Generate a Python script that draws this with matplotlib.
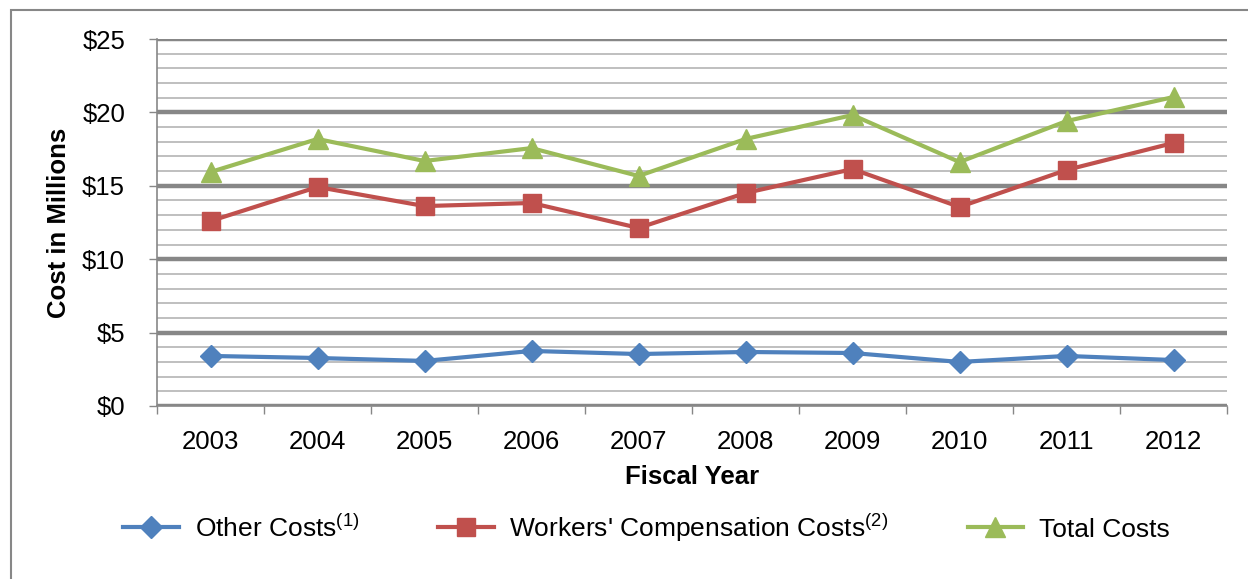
import matplotlib
matplotlib.use("Agg")
import matplotlib.pyplot as plt
from matplotlib.patches import Rectangle
from matplotlib.ticker import MultipleLocator, FixedLocator

years = ['2003', '2004', '2005', '2006', '2007', '2008', '2009', '2010', '2011', '2012']
other_costs = [3.41, 3.27, 3.07, 3.75, 3.54, 3.68, 3.61, 3.00, 3.41, 3.13]
workers_comp = [12.6, 14.92, 13.62, 13.83, 12.13, 14.51, 16.14, 13.56, 16.08, 17.92]
total_costs = [15.94, 18.19, 16.69, 17.57, 15.67, 18.19, 19.82, 16.62, 19.41, 21.05]
y_ticks = [0, 5, 10, 15, 20, 25]

plt.rcParams['font.family'] = ['Liberation Sans', 'DejaVu Sans']
plt.rcParams['mathtext.fontset'] = 'custom'
plt.rcParams['mathtext.rm'] = 'Liberation Sans'
plt.rcParams['mathtext.it'] = 'Liberation Sans'

fs = 18.5
dpi = 100
fig = plt.figure(figsize=(1248 / dpi, 579 / dpi), dpi=dpi)
ax = fig.add_axes([0.1258, 0.2988, 0.8574, 0.6338])

xs = list(range(len(years)))
ax.plot(xs, other_costs, color='#4F81BD', lw=3, marker='D', ms=11,
        label='Other Costs$^{(1)}$', zorder=5)
ax.plot(xs, workers_comp, color='#C0504D', lw=3, marker='s', ms=13.5,
        label="Workers' Compensation Costs$^{(2)}$", zorder=5)
ax.plot(xs, total_costs, color='#9BBB59', lw=3, marker='^', ms=14,
        label='Total Costs', zorder=5)

ax.set_xlim(-0.5, len(years) - 0.5)
ax.set_ylim(0, 25)

ax.yaxis.set_major_locator(FixedLocator(y_ticks))
ax.yaxis.set_minor_locator(MultipleLocator(1))
ax.set_yticklabels(['\\$%d' % v for v in y_ticks], fontsize=fs)
ax.grid(axis='y', which='major', color='#878787', lw=3.2, zorder=1)
ax.grid(axis='y', which='minor', color='#BFBFBF', lw=1.4, zorder=1)
ax.tick_params(axis='y', which='major', length=6, width=1, color='#878787', pad=17)
ax.tick_params(axis='y', which='minor', length=0)

ax.set_xticks(xs)
ax.set_xticklabels(years, fontsize=fs)
ax.xaxis.set_minor_locator(FixedLocator([i - 0.5 for i in range(len(years) + 1)]))
ax.tick_params(axis='x', which='major', length=0, pad=17)
ax.tick_params(axis='x', which='minor', length=6, width=1, color='#878787')

for s in ['top', 'right']:
    ax.spines[s].set_visible(False)
for s in ['left', 'bottom']:
    ax.spines[s].set_color('#878787')
    ax.spines[s].set_linewidth(1.2)

ax.set_xlabel('Fiscal Year', fontsize=fs, fontweight='bold', labelpad=8)
ax.set_ylabel('Cost in Millions', fontsize=fs, fontweight='bold', labelpad=8)

fig.legend(loc='center', bbox_to_anchor=(0.518, 0.089), ncol=3, frameon=False,
           fontsize=fs + 0.5, handlelength=2.1, columnspacing=3.0, handletextpad=0.6)

fig.patches.append(Rectangle((11 / 1248, -0.1), 1.2, (579 - 10) / 579 + 0.1,
                             transform=fig.transFigure, fill=False,
                             edgecolor='#878787', lw=1.5))

fig.savefig('out.png', dpi=dpi)
